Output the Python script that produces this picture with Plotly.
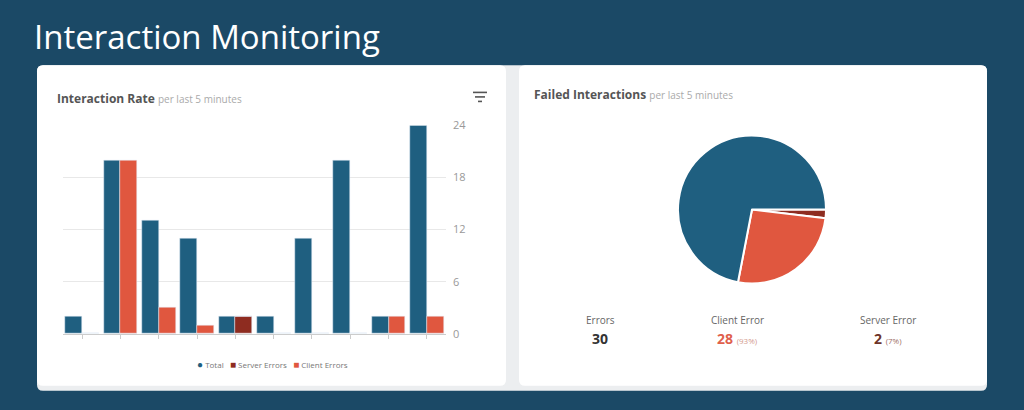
import plotly.graph_objects as go

# Interaction rate per last 5 minutes (10 intervals)
intervals = list(range(10))
total = [2, 20, 13, 11, 2, 2, 11, 20, 2, 24]
server_errors = [0, 0, 0, 0, 2, 0, 0, 0, 0, 0]
client_errors = [0, 20, 3, 1, 0, 0, 0, 0, 2, 2]
y_ticks = [0, 6, 12, 18, 24]
series_names = ["Total", "Server Errors", "Client Errors"]

# failed interactions pie
pie_labels = ["Server Error", "Client Error", "Success"]
pie_values = [sum(server_errors), sum(client_errors),
              sum(total) - sum(server_errors) - sum(client_errors)]

BLUE = "#1f5f80"
ORANGE = "#e0573f"
DARKRED = "#8e2c20"
NAVY = "#1b4966"
W, H = 1024, 410
# the page ends up drawing the figure 394px tall, 8px down from the top
TOP, PH = 7.7, 394.5


def px(x):
    return x / W


def py(y):
    return 1 - (y - TOP) / PH


def rounded_rect(x0, y0, x1, y1, r):
    # pixel coords -> paper path with rounded corners
    rx, ry = r / W, r / PH
    a, b, c, d = px(x0), py(y1), px(x1), py(y0)
    return (f"M {a+rx},{b} L {c-rx},{b} Q {c},{b} {c},{b+ry} "
            f"L {c},{d-ry} Q {c},{d} {c-rx},{d} L {a+rx},{d} "
            f"Q {a},{d} {a},{d-ry} L {a},{b+ry} Q {a},{b} {a+rx},{b} Z")


def label(text, x, y, size, color, anchor="center"):
    return dict(text=text, x=px(x), y=py(y), xref="paper", yref="paper",
                xanchor=anchor, yanchor="middle", showarrow=False,
                font=dict(family="Open Sans", size=size, color=color))


fig = go.Figure()

bw = 0.44
fig.add_trace(go.Bar(x=intervals, y=total, name=series_names[0],
                     marker_color=BLUE, width=bw, offset=-bw))
fig.add_trace(go.Bar(x=intervals, y=server_errors, name=series_names[1],
                     marker_color=DARKRED, width=bw, offset=0))
fig.add_trace(go.Bar(x=intervals, y=client_errors, base=server_errors,
                     name=series_names[2], marker_color=ORANGE,
                     width=bw, offset=0))

fig.add_trace(go.Pie(labels=pie_labels, values=pie_values, sort=False,
                     direction="clockwise", rotation=90, textinfo="none",
                     marker=dict(colors=[DARKRED, ORANGE, BLUE],
                                 line=dict(color="white", width=2)),
                     domain=dict(x=[px(678), px(826)], y=[py(283), py(135)])))

# stats under the pie
errors = sum(server_errors) + sum(client_errors)
client_pct = round(100 * sum(client_errors) / errors)
server_pct = round(100 * sum(server_errors) / errors)
stat_labels = ["Errors", "Client Error", "Server Error"]
stat_values = [
    f"<b>{errors}</b>",
    f"<b>{sum(client_errors)}</b> <span style='font-size:8px;color:#d39a8e'>({client_pct}%)</span>",
    f"<b>{sum(server_errors)}</b> <span style='font-size:8px;color:#a07068'>({server_pct}%)</span>",
]
stat_colors = ["#333333", "#e0604c", "#6e3429"]
stat_x = [600, 737, 888]

annotations = [
    label("Interaction Monitoring", 32, 36, 33, "white", "left"),
    label("<b>Interaction Rate</b> <span style='font-size:10px;color:#aaaaaa'>per last 5 minutes</span>",
          55, 98, 12, "#555555", "left"),
    label("<b>Failed Interactions</b> <span style='font-size:10px;color:#aaaaaa'>per last 5 minutes</span>",
          532, 94, 12, "#555555", "left"),
]
for lab, val, col, sx in zip(stat_labels, stat_values, stat_colors, stat_x):
    annotations.append(label(lab, sx, 319, 10, "#666666"))
    annotations.append(label(val, sx, 338, 14, col))

# compact legend as text
legend_marks = ["●", "■", "■"]
legend_text = "   ".join(
    f"<span style='color:{c};font-size:10px'>{m}</span> {n}"
    for m, c, n in zip(legend_marks, [BLUE, DARKRED, ORANGE], series_names))
annotations.append(label(legend_text, 272, 363, 8, "#777777"))

shapes = [
    dict(type="path", path=rounded_rect(37, 65, 987, 390, 6), xref="paper",
         yref="paper", fillcolor="#eceef0", line=dict(width=0), layer="below"),
    dict(type="path", path=rounded_rect(37, 65, 506, 385, 6), xref="paper",
         yref="paper", fillcolor="white", line=dict(width=0), layer="below"),
    dict(type="path", path=rounded_rect(519, 65, 987, 385, 6), xref="paper",
         yref="paper", fillcolor="white", line=dict(width=0), layer="below"),
]
# filter icon
for yy, half in [(92, 7), (96.5, 5), (101, 2)]:
    shapes.append(dict(type="line", xref="paper", yref="paper",
                       x0=px(480 - half), x1=px(480 + half), y0=py(yy), y1=py(yy),
                       line=dict(color="#555555", width=1.6)))

fig.update_layout(
    width=W, height=H, margin=dict(l=0, r=0, t=0, b=0),
    paper_bgcolor=NAVY, plot_bgcolor="rgba(0,0,0,0)",
    barmode="overlay", bargap=0, showlegend=False,
    font=dict(family="Open Sans"),
    xaxis=dict(domain=[px(63), px(446)], range=[-0.5, 9.5],
               tickvals=intervals, showticklabels=False, ticks="outside",
               ticklen=4, tickcolor="#cccccc", showgrid=False,
               showline=True, linecolor="#cccccc", zeroline=False),
    yaxis=dict(domain=[py(333), py(125)], range=[0, 24], side="right",
               tickvals=y_ticks, showgrid=True, gridcolor="#e8e8e8",
               zeroline=False, ticks="", ticklabelstandoff=6,
               tickfont=dict(size=11, color="#999999")),
    annotations=annotations, shapes=shapes,
)

fig.write_html(
    "out.html",
    config={"displayModeBar": False},
    post_script=("var s=document.documentElement.style;"
                 "s.margin='0';s.padding='0';s.overflow='hidden';"
                 "s.background='" + NAVY + "';"
                 "var b=document.body.style;"
                 "b.margin='0';b.padding='0';b.overflow='hidden';"
                 "b.background='" + NAVY + "';"),
)
